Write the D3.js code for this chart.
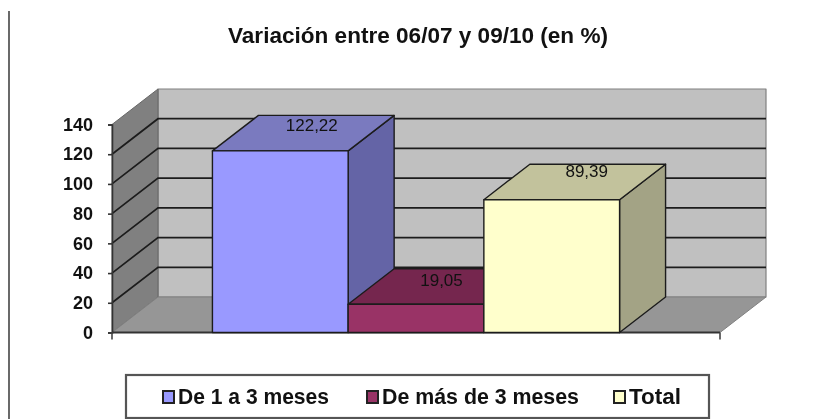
<!DOCTYPE html>
<html><head><meta charset="utf-8">
<script src="https://cdn.jsdelivr.net/npm/d3@7/dist/d3.min.js"></script>
<style>html,body{margin:0;padding:0;background:#fff;overflow:hidden}svg{display:block;filter:blur(0.4px)}text{font-family:"Liberation Sans",Arial,sans-serif}</style>
</head><body><svg id="c" width="813" height="419"></svg>
<script>
const titleText = "Variación entre 06/07 y 09/10 (en %)";
const seriesNames = ["De 1 a 3 meses", "De más de 3 meses", "Total"];
const seriesValues = [122.22, 19.05, 89.39];
const valueLabels = ["122,22", "19,05", "89,39"];
const yTicks = [0, 20, 40, 60, 80, 100, 120, 140];
const frontColors = ["#9999ff", "#993366", "#ffffcc"];
const topColors = ["#7a7abf", "#75264e", "#c2c29c"];
const sideColors = ["#6464a6", "#5e1f40", "#a3a385"];

const svg = d3.select("#c");
const y = d3.scaleLinear().domain([0, 140]).range([332.5, 124.5]);
const x = d3.scaleBand().domain(seriesNames).range([112, 720]).paddingInner(0).paddingOuter(0.74);
const dx = 46, dy = -35.5;
const x0 = 112, x1 = 720;
const ink = "#1c1c1c";
const poly = (pts, fill, stroke, sw) => svg.append("polygon").attr("points", pts.map(p => p.join(",")).join(" "))
  .attr("fill", fill).attr("stroke", stroke).attr("stroke-width", sw).attr("stroke-linejoin", "round");

// frame stroke on the left
svg.append("line").attr("x1", 9).attr("x2", 9).attr("y1", 11).attr("y2", 419).attr("stroke", "#444").attr("stroke-width", 1.6);

// title
svg.append("text").attr("x", 228).attr("y", 43).attr("font-size", 21.5).attr("font-weight", "bold").attr("fill", "#111")
  .attr("textLength", 380).attr("lengthAdjust", "spacingAndGlyphs").text(titleText);

// walls and floor
poly([[x0 + dx, y(140) + dy], [x1 + dx, y(140) + dy], [x1 + dx, y(0) + dy], [x0 + dx, y(0) + dy]], "#c0c0c0", "#808080", 1.2);
poly([[x0, y(140)], [x0 + dx, y(140) + dy], [x0 + dx, y(0) + dy], [x0, y(0)]], "#808080", "#666", 1);
poly([[x0, y(0)], [x0 + dx, y(0) + dy], [x1 + dx, y(0) + dy], [x1, y(0)]], "#969696", "#808080", 1);

// gridlines (back wall and side wall)
const grid = yTicks.filter(t => t > 0 && t < 140);
svg.append("g").selectAll("path").data(grid).join("path")
  .attr("d", t => `M${x0},${y(t)}L${x0 + dx},${y(t) + dy}L${x1 + dx},${y(t) + dy}`)
  .attr("fill", "none").attr("stroke", ink).attr("stroke-width", 1.7);

// axes
const yAxis = d3.axisLeft(y).tickValues(yTicks).tickSize(4).tickPadding(15);
const gy = svg.append("g").attr("transform", `translate(${x0},0)`).call(yAxis);
gy.select(".domain").attr("stroke", "#333").attr("stroke-width", 1.6);
gy.selectAll("line").attr("stroke", "#333").attr("stroke-width", 1.6);
gy.selectAll("text").attr("font-size", 18).attr("font-weight", "bold").attr("fill", "#111")
  .style("font-family", '"Liberation Sans",Arial,sans-serif');

svg.append("line").attr("x1", x0).attr("x2", x1).attr("y1", y(0)).attr("y2", y(0)).attr("stroke", "#333").attr("stroke-width", 2);
svg.selectAll("line.xt").data([x0, x1]).join("line").attr("class", "xt")
  .attr("x1", d => d).attr("x2", d => d).attr("y1", y(0)).attr("y2", y(0) + 7).attr("stroke", "#444").attr("stroke-width", 1.6);

// 3-D bars
seriesNames.forEach((name, i) => {
  const l = x(name), r = l + x.bandwidth(), t = y(seriesValues[i]), b = y(0);
  poly([[r, t], [r + dx, t + dy], [r + dx, b + dy], [r, b]], sideColors[i], ink, 1.4);
  poly([[l, t], [l + dx, t + dy], [r + dx, t + dy], [r, t]], topColors[i], ink, 1.4);
  poly([[l, t], [r, t], [r, b], [l, b]], frontColors[i], ink, 1.4);
});

// value labels, sitting on the top face of each bar
const labelShift = [[31.5, -20], [25.5, -18.5], [35, -22.5]];
svg.append("g").selectAll("text").data(seriesNames).join("text")
  .attr("x", (d, i) => x(d) + x.bandwidth() / 2 + labelShift[i][0])
  .attr("y", (d, i) => y(seriesValues[i]) + labelShift[i][1])
  .attr("text-anchor", "middle").attr("font-size", 17).attr("fill", "#111")
  .text((d, i) => valueLabels[i]);

// legend
svg.append("rect").attr("x", 126).attr("y", 375).attr("width", 583).attr("height", 43)
  .attr("fill", "#fff").attr("stroke", "#555").attr("stroke-width", 2.2);
const legendX = [163, 367, 614];
const legendW = [151, 197, 52];
seriesNames.forEach((name, i) => {
  svg.append("rect").attr("x", legendX[i]).attr("y", 391).attr("width", 11).attr("height", 12)
    .attr("fill", frontColors[i]).attr("stroke", "#222").attr("stroke-width", 2);
  svg.append("text").attr("x", legendX[i] + 15).attr("y", 403.5).attr("font-size", 22.5).attr("font-weight", "bold")
    .attr("fill", "#111").attr("textLength", legendW[i]).attr("lengthAdjust", "spacingAndGlyphs").text(name);
});
</script></body></html>
